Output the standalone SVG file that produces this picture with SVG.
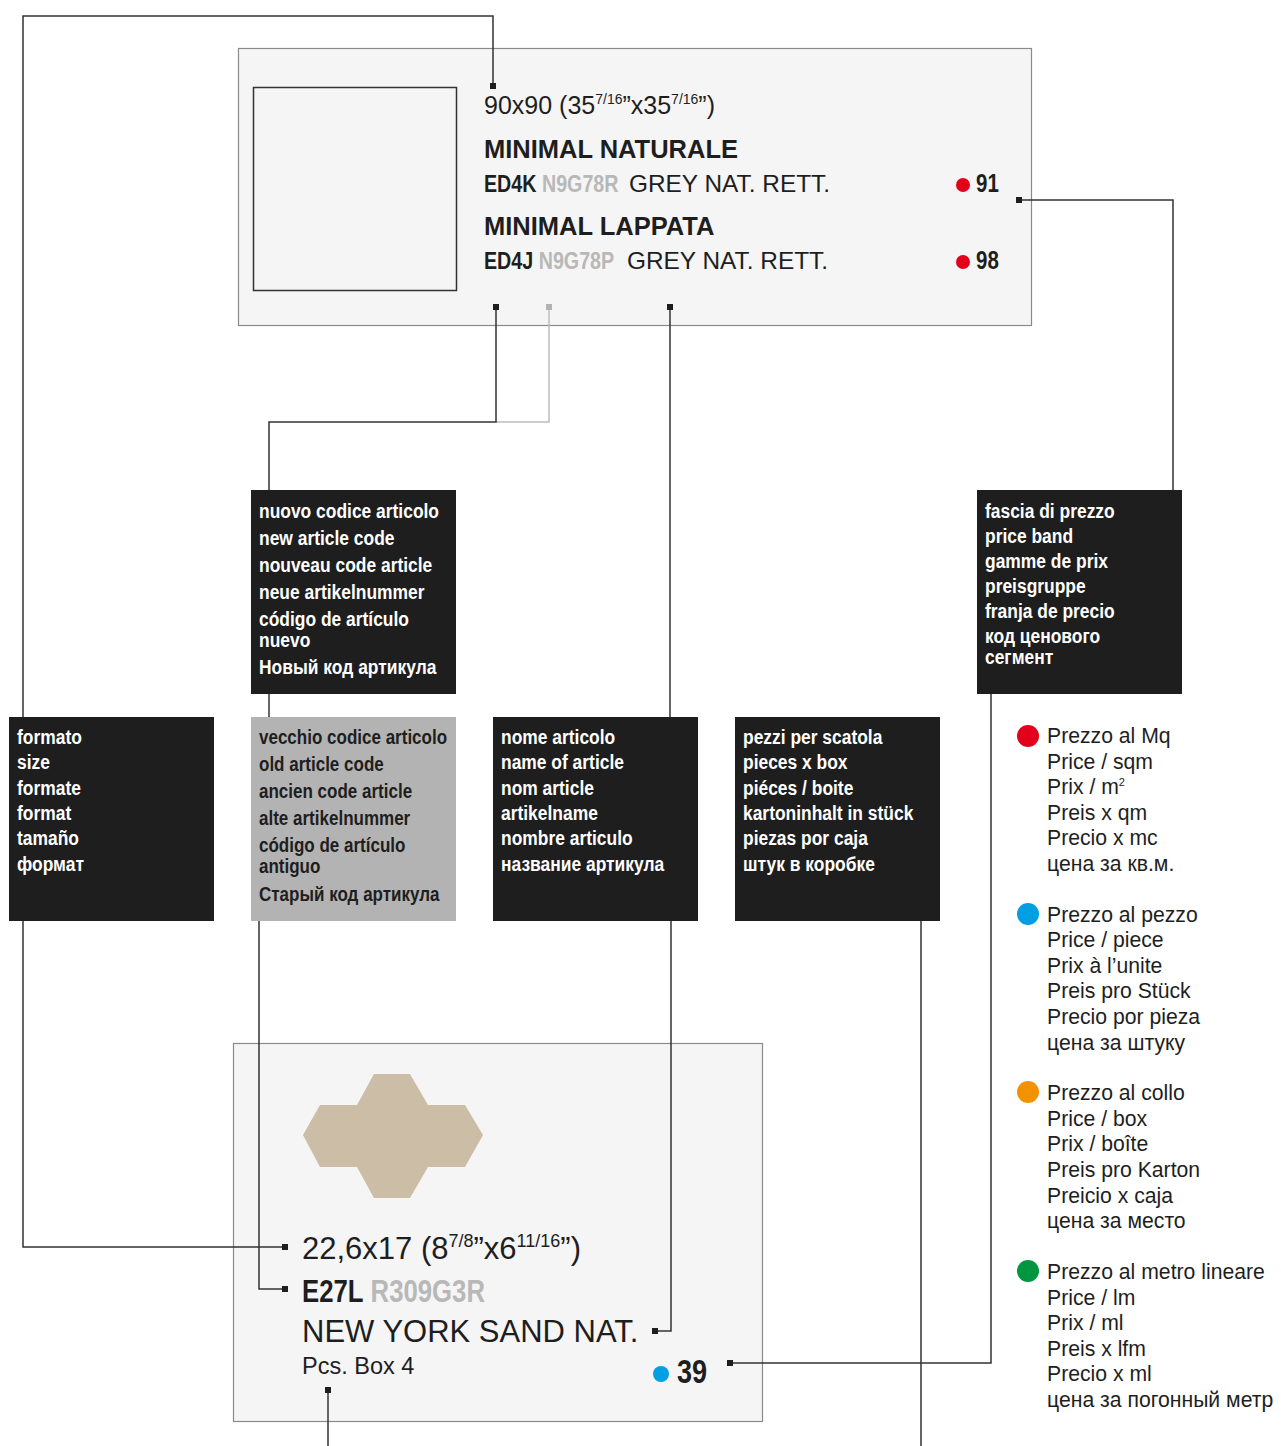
<svg xmlns="http://www.w3.org/2000/svg" width="1281" height="1446" viewBox="0 0 1281 1446">
<style>
.panel{fill:#f5f5f5;stroke:#8a8a8a;stroke-width:1.2}
.box{fill:#1e1e1e}
.gbox{fill:#b3b3b3}
.lbl{font-family:"Liberation Sans",Arial,sans-serif;font-weight:bold;font-size:20.5px;fill:#ffffff}
.lbl.dk{fill:#1e1e1e}
.cond{font-family:"Liberation Sans",Arial,sans-serif;font-weight:bold;fill:#1e1e1e}
.reg{font-family:"Liberation Sans",Arial,sans-serif;fill:#1e1e1e}
.bold{font-family:"Liberation Sans",Arial,sans-serif;font-weight:bold;fill:#1e1e1e}
.gray{fill:#b8b8b8}
.ln{fill:none;stroke:#333;stroke-width:1.5}
.lg{fill:none;stroke:#bdbdbd;stroke-width:1.5}
.mk{fill:#1e1e1e}
.leg{font-family:"Liberation Sans",Arial,sans-serif;font-size:21.2px;fill:#1e1e1e}
</style>

<g id="top-panel">
  <rect class="panel" x="238.5" y="48.5" width="793" height="277"/>
  <rect x="253.5" y="87.5" width="203" height="203" fill="none" stroke="#333" stroke-width="1.5"/>
  <text class="reg" x="484" y="114" font-size="25">90x90 (35<tspan font-size="14" dy="-10">7/16</tspan><tspan dy="10">”x35</tspan><tspan font-size="14" dy="-10">7/16</tspan><tspan dy="10">”)</tspan></text>
  <text class="bold" x="484" y="158" font-size="25.5">MINIMAL NATURALE</text>
  <text class="cond" transform="translate(484,192) scale(0.82,1)" font-size="24"><tspan x="0" y="0">ED4K</tspan><tspan class="gray"> N9G78R</tspan></text>
  <text class="reg" x="629" y="192" font-size="24.4">GREY NAT. RETT.</text>
  <circle cx="963" cy="185" r="7" fill="#e2001a"/>
  <text class="cond" transform="translate(976,192) scale(0.82,1)" font-size="25">91</text>
  <text class="bold" x="484" y="235" font-size="25.5">MINIMAL LAPPATA</text>
  <text class="cond" transform="translate(484,269) scale(0.82,1)" font-size="24"><tspan x="0" y="0">ED4J</tspan><tspan class="gray"> N9G78P</tspan></text>
  <text class="reg" x="627" y="269" font-size="24.4">GREY NAT. RETT.</text>
  <circle cx="963" cy="262" r="7" fill="#e2001a"/>
  <text class="cond" transform="translate(976,269) scale(0.82,1)" font-size="25">98</text>
</g>

<g id="bottom-panel">
  <rect class="panel" x="233.5" y="1043.5" width="529" height="378"/>
  <polygon points="374,1074 410,1074 428,1105 465,1105 483,1135 465,1167 428,1167 410,1198 374,1198 357,1167 320,1167 303,1135 320,1105 357,1105" fill="#cbbda6"/>
  <text class="reg" x="302" y="1259" font-size="31">22,6x17 (8<tspan font-size="18" dy="-12">7/8</tspan><tspan dy="12">”x6</tspan><tspan font-size="18" dy="-12">11/16</tspan><tspan dy="12">”)</tspan></text>
  <text class="cond" transform="translate(302,1302) scale(0.83,1)" font-size="31"><tspan x="0" y="0">E27L</tspan><tspan class="gray"> R309G3R</tspan></text>
  <text class="reg" x="302" y="1342" font-size="31">NEW YORK SAND NAT.</text>
  <text class="reg" x="302" y="1374" font-size="23.5">Pcs. Box 4</text>
  <circle cx="661" cy="1374" r="8" fill="#009fe3"/>
  <text class="cond" transform="translate(677,1383) scale(0.82,1)" font-size="33">39</text>
</g>

<g id="connectors">
  <polyline class="ln" points="493,86 493,16 23,16 23,717"/>
  <polyline class="ln" points="23,921 23,1247 285,1247"/>
  <polyline class="lg" points="549,307 549,422 496,422"/>
  <polyline class="ln" points="496,307 496,422 269,422 269,490"/>
  <polyline class="ln" points="269,694 269,717"/>
  <polyline class="ln" points="259,921 259,1289 285,1289"/>
  <polyline class="ln" points="670,307 670,717"/>
  <polyline class="ln" points="671,921 671,1331 655,1331"/>
  <polyline class="ln" points="1019,200 1173,200 1173,490"/>
  <polyline class="ln" points="991,694 991,1363 730,1363"/>
  <polyline class="ln" points="921,921 921,1446"/>
  <polyline class="ln" points="328,1390 328,1446"/>
  <rect class="mk" x="490" y="83" width="6" height="6"/>
  <rect class="mk" x="493" y="304" width="6" height="6"/>
  <rect x="546" y="304" width="6" height="6" fill="#b3b3b3"/>
  <rect class="mk" x="667" y="304" width="6" height="6"/>
  <rect class="mk" x="1016" y="197" width="6" height="6"/>
  <rect class="mk" x="282" y="1244" width="6" height="6"/>
  <rect class="mk" x="282" y="1286" width="6" height="6"/>
  <rect class="mk" x="652" y="1328" width="6" height="6"/>
  <rect class="mk" x="727" y="1360" width="6" height="6"/>
  <rect class="mk" x="325" y="1387" width="6" height="6"/>
</g>

<g id="box-new-code">
  <rect class="box" x="251" y="490" width="205" height="204"/>
  <text class="lbl" transform="translate(259,0) scale(0.85,1)"><tspan x="0" y="518">nuovo codice articolo</tspan><tspan x="0" y="545">new article code</tspan><tspan x="0" y="572">nouveau code article</tspan><tspan x="0" y="599">neue artikelnummer</tspan><tspan x="0" y="626">código de artículo</tspan><tspan x="0" y="647">nuevo</tspan><tspan x="0" y="674">Новый код артикула</tspan></text>
</g>

<g id="box-price-band">
  <rect class="box" x="977" y="490" width="205" height="204"/>
  <text class="lbl" transform="translate(985,0) scale(0.85,1)"><tspan x="0" y="518">fascia di prezzo</tspan><tspan x="0" y="543">price band</tspan><tspan x="0" y="568">gamme de prix</tspan><tspan x="0" y="593">preisgruppe</tspan><tspan x="0" y="618">franja de precio</tspan><tspan x="0" y="643">код ценового</tspan><tspan x="0" y="664">сегмент</tspan></text>
</g>

<g id="box-size">
  <rect class="box" x="9" y="717" width="205" height="204"/>
  <text class="lbl" transform="translate(17,0) scale(0.85,1)"><tspan x="0" y="744">formato</tspan><tspan x="0" y="769">size</tspan><tspan x="0" y="795">formate</tspan><tspan x="0" y="820">format</tspan><tspan x="0" y="845">tamaño</tspan><tspan x="0" y="871">формат</tspan></text>
</g>

<g id="box-old-code">
  <rect class="gbox" x="251" y="717" width="205" height="204"/>
  <text class="lbl dk" transform="translate(259,0) scale(0.83,1)"><tspan x="0" y="744">vecchio codice articolo</tspan><tspan x="0" y="771">old article code</tspan><tspan x="0" y="798">ancien code article</tspan><tspan x="0" y="825">alte artikelnummer</tspan><tspan x="0" y="852">código de artículo</tspan><tspan x="0" y="873">antiguo</tspan><tspan x="0" y="901">Старый код артикула</tspan></text>
</g>

<g id="box-name">
  <rect class="box" x="493" y="717" width="205" height="204"/>
  <text class="lbl" transform="translate(501,0) scale(0.85,1)"><tspan x="0" y="744">nome articolo</tspan><tspan x="0" y="769">name of article</tspan><tspan x="0" y="795">nom article</tspan><tspan x="0" y="820">artikelname</tspan><tspan x="0" y="845">nombre articulo</tspan><tspan x="0" y="871">название артикула</tspan></text>
</g>

<g id="box-pieces">
  <rect class="box" x="735" y="717" width="205" height="204"/>
  <text class="lbl" transform="translate(743,0) scale(0.85,1)"><tspan x="0" y="744">pezzi per scatola</tspan><tspan x="0" y="769">pieces x box</tspan><tspan x="0" y="795">piéces / boite</tspan><tspan x="0" y="820">kartoninhalt in stück</tspan><tspan x="0" y="845">piezas por caja</tspan><tspan x="0" y="871">штук в коробке</tspan></text>
</g>

<g id="legend">
  <circle cx="1028" cy="736" r="11" fill="#e2001a"/>
  <text class="leg"><tspan x="1047" y="743">Prezzo al Mq</tspan><tspan x="1047" y="769">Price / sqm</tspan><tspan x="1047" y="794">Prix / m<tspan font-size="11" dy="-8">2</tspan></tspan><tspan x="1047" y="820">Preis x qm</tspan><tspan x="1047" y="845">Precio x mc</tspan><tspan x="1047" y="871">цена за кв.м.</tspan></text>
  <circle cx="1028" cy="914" r="11" fill="#009fe3"/>
  <text class="leg"><tspan x="1047" y="922">Prezzo al pezzo</tspan><tspan x="1047" y="947">Price / piece</tspan><tspan x="1047" y="973">Prix à l’unite</tspan><tspan x="1047" y="998">Preis pro Stück</tspan><tspan x="1047" y="1024">Precio por pieza</tspan><tspan x="1047" y="1050">цена за штуку</tspan></text>
  <circle cx="1028" cy="1092" r="11" fill="#f39200"/>
  <text class="leg"><tspan x="1047" y="1100">Prezzo al collo</tspan><tspan x="1047" y="1126">Price / box</tspan><tspan x="1047" y="1151">Prix / boîte</tspan><tspan x="1047" y="1177">Preis pro Karton</tspan><tspan x="1047" y="1203">Preicio x caja</tspan><tspan x="1047" y="1228">цена за место</tspan></text>
  <circle cx="1028" cy="1271" r="11" fill="#009640"/>
  <text class="leg"><tspan x="1047" y="1279">Prezzo al metro lineare</tspan><tspan x="1047" y="1305">Price / lm</tspan><tspan x="1047" y="1330">Prix / ml</tspan><tspan x="1047" y="1356">Preis x lfm</tspan><tspan x="1047" y="1381">Precio x ml</tspan><tspan x="1047" y="1407">цена за погонный метр</tspan></text>
</g>
</svg>
